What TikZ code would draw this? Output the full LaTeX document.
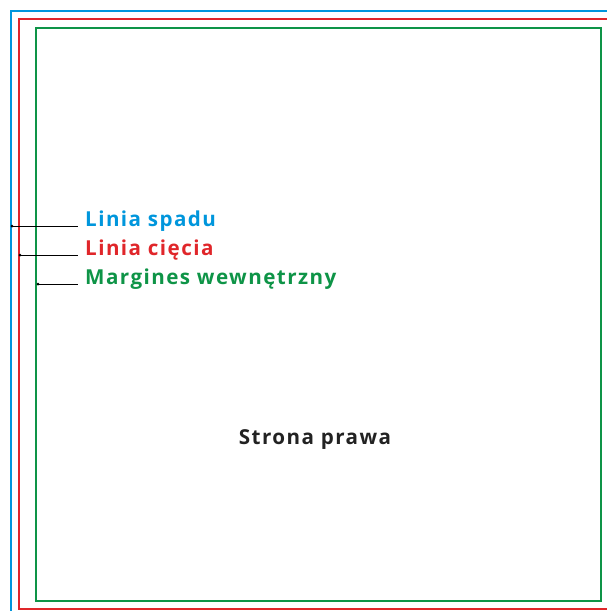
\documentclass[tikz,border=0pt]{standalone}
\usepackage{fontspec}
\setmainfont{Open Sans}[LetterSpace=7]
\definecolor{bleedblue}{RGB}{0,150,220}
\definecolor{cutred}{RGB}{224,38,42}
\definecolor{margreen}{RGB}{14,148,71}
\definecolor{textdark}{RGB}{34,34,34}
\begin{document}
\begin{tikzpicture}[x=1pt,y=-1pt,
  frame/.style={line width=2.7pt},
  leader/.style={draw=black,line width=0.8pt},
  lbl/.style={anchor=base west,inner xsep=7pt,inner ysep=0pt,font=\bfseries\fontsize{20.6}{22}\selectfont},
  dotmark/.style={circle,fill=black,inner sep=0pt,minimum size=3pt}]
\useasboundingbox (0,0) rectangle (607,611);
\begin{scope}
\clip (0,0) rectangle (607,611);
\draw[frame,bleedblue] (11,11) rectangle (640,640);
\draw[frame,cutred] (19,19) rectangle (640,609);
\draw[frame,margreen] (36,28) rectangle (601,601);
\end{scope}
\node[dotmark] (pb) at (12,226) {};
\node[dotmark] (pr) at (20,255) {};
\node[dotmark] (pg) at (38,284) {};
\node[lbl,text=bleedblue] (lb) at (78,226) {Linia spadu};
\node[lbl,text=cutred] (lr) at (78,255) {Linia cięcia};
\node[lbl,text=margreen] (lg) at (78,284) {Margines wewnętrzny};
\draw[leader] (pb.center) -- (lb.base west);
\draw[leader] (pr.center) -- (lr.base west);
\draw[leader] (pg.center) -- (lg.base west);
\node[anchor=base,inner sep=0pt,text=textdark,font=\bfseries\fontsize{20.6}{22}\selectfont] (sp) at (315,444) {Strona prawa};
\end{tikzpicture}
\end{document}
